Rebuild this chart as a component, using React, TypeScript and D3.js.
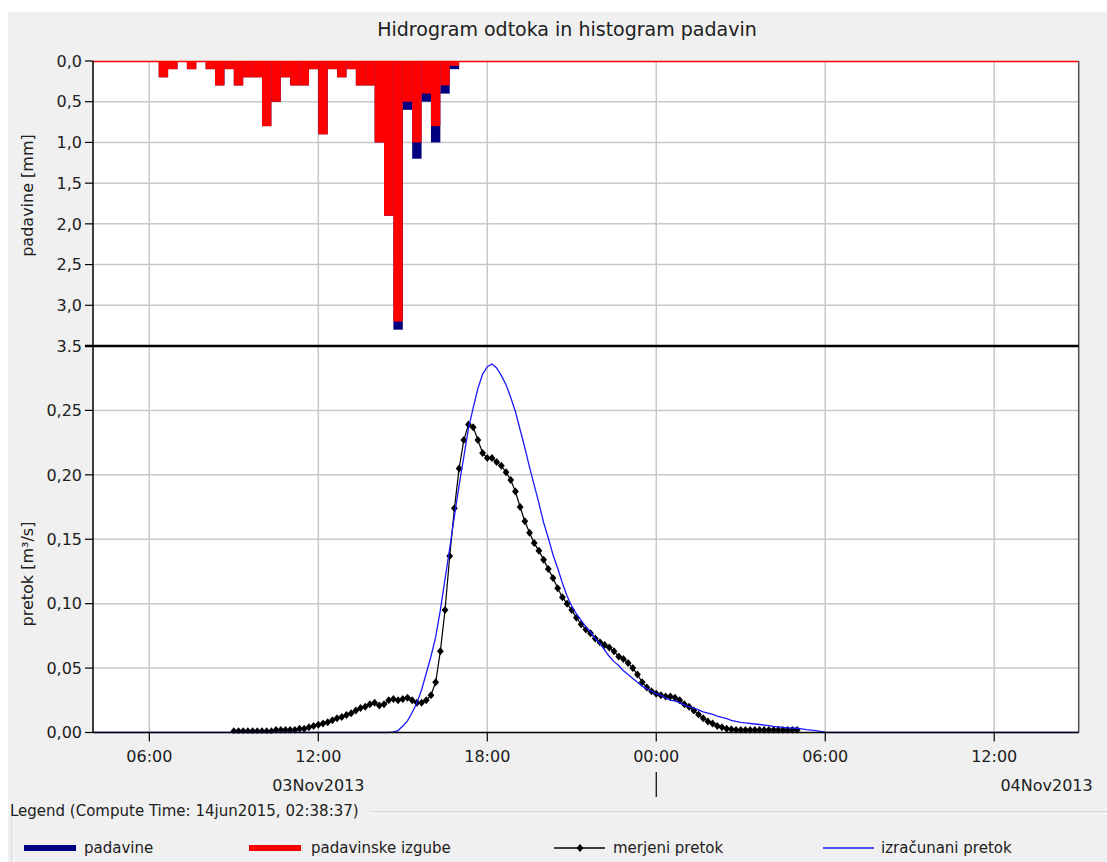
import React from 'react';
import * as d3 from 'd3';

// ---------- DATA ----------
const chartTitle = 'Hidrogram odtoka in histogram padavin';
const precipStart = Date.UTC(2013, 10, 3, 6, 0);
const precipStepMin = 20;
// total precipitation per 20-min interval [mm]
const padavine = [0, 0.2, 0.1, 0, 0.1, 0, 0.1, 0.3, 0.1, 0.3, 0.2, 0.2, 0.8, 0.5, 0.2, 0.3, 0.3, 0.1, 0.9, 0.1, 0.2, 0.1, 0.3, 0.3, 1.0, 1.9, 3.3, 0.6, 1.2, 0.5, 1.0, 0.4, 0.1];
// precipitation losses per 20-min interval [mm]
const izgube = [0, 0.2, 0.1, 0, 0.1, 0, 0.1, 0.3, 0.1, 0.3, 0.2, 0.2, 0.8, 0.5, 0.2, 0.3, 0.3, 0.1, 0.9, 0.1, 0.2, 0.1, 0.3, 0.3, 1.0, 1.9, 3.2, 0.5, 1.0, 0.4, 0.8, 0.3, 0.06];

const measuredStart = Date.UTC(2013, 10, 3, 9, 0);
const measuredStepMin = 10;
const merjeniPretok = [
  0.001, 0.001, 0.001, 0.001, 0.001, 0.001, 0.001, 0.001, 0.001,
  0.002, 0.002, 0.002, 0.002, 0.002,
  0.003, 0.003, 0.004, 0.005, 0.006, 0.007, 0.008, 0.0095, 0.011, 0.012,
  0.0135, 0.015, 0.017, 0.019, 0.020, 0.022, 0.023, 0.021, 0.022, 0.025,
  0.026, 0.025, 0.026, 0.027, 0.025, 0.023, 0.023, 0.025, 0.029, 0.039,
  0.063, 0.095, 0.137, 0.174, 0.205, 0.227, 0.239, 0.237, 0.227, 0.217,
  0.213, 0.213, 0.210, 0.207, 0.202, 0.196, 0.187, 0.175, 0.164, 0.155,
  0.147, 0.141, 0.134, 0.127, 0.120, 0.112, 0.105, 0.100, 0.095, 0.089,
  0.084, 0.080, 0.077, 0.073, 0.070, 0.068, 0.066, 0.063, 0.059, 0.057,
  0.054, 0.050, 0.045, 0.039, 0.035, 0.032, 0.030, 0.029, 0.028, 0.028,
  0.027, 0.025, 0.022, 0.020, 0.017, 0.014, 0.011, 0.0085, 0.007, 0.005,
  0.004, 0.003, 0.0025,
  0.002, 0.002, 0.002, 0.002, 0.002, 0.002, 0.002, 0.002, 0.002, 0.002, 0.002, 0.002, 0.002, 0.002,
];

const computedStart = Date.UTC(2013, 10, 3, 14, 0);
const computedStepMin = 10;
const izracunaniPretok = [
  0, 0, 0, 0, 0.0005, 0.0015, 0.005, 0.009, 0.0155, 0.023,
  0.033, 0.046, 0.059, 0.074, 0.095, 0.119, 0.143, 0.168, 0.192, 0.214,
  0.236, 0.252, 0.267, 0.278, 0.284, 0.286, 0.283, 0.277, 0.270, 0.260,
  0.249, 0.235, 0.221, 0.206, 0.192, 0.178, 0.163, 0.151, 0.138, 0.1275,
  0.116, 0.106, 0.098, 0.092, 0.087, 0.082, 0.078, 0.073, 0.069, 0.064,
  0.059, 0.055, 0.052, 0.048, 0.045, 0.042, 0.039, 0.036, 0.034, 0.032,
  0.030, 0.029, 0.027, 0.025, 0.0245, 0.023, 0.0215, 0.020, 0.019, 0.0175,
  0.016, 0.015, 0.014, 0.0128, 0.0117, 0.0107, 0.0095, 0.0086, 0.0079, 0.0074,
  0.007, 0.0066, 0.0062, 0.0058, 0.0053, 0.0048, 0.0044, 0.004, 0.0037, 0.0035,
  0.0033, 0.0028, 0.0023, 0.0019, 0.0015, 0.0008, 0.0003, 0,
];

const timeDomain = [Date.UTC(2013, 10, 3, 4, 0), Date.UTC(2013, 10, 4, 15, 0)];
const precipTicks = [0, 0.5, 1.0, 1.5, 2.0, 2.5, 3.0, 3.5];
const precipTickLabels = ['0,0', '0,5', '1,0', '1,5', '2,0', '2,5', '3,0', '3.5'];
const flowTicks = [0, 0.05, 0.1, 0.15, 0.2, 0.25];
const flowTickLabels = ['0,00', '0,05', '0,10', '0,15', '0,20', '0,25'];
const dayLabels = ['03Nov2013', '04Nov2013'];
const dayNoons = [Date.UTC(2013, 10, 3, 12), Date.UTC(2013, 10, 4, 12)];
const dayBoundary = Date.UTC(2013, 10, 4, 0);
const legendTitle = 'Legend (Compute Time: 14jun2015, 02:38:37)';
const legendLabels = ['padavine', 'padavinske izgube', 'merjeni pretok', 'izračunani pretok'];

// ---------- STYLE ----------
const FONT = 'DejaVu Sans, Verdana, sans-serif';
const NAVY = '#000080';
const RED = '#ff0000';
const BLUE = '#1a1aff';
const GRID = '#c8c8c8';
const TXT = '#202020';

const L = 93, R = 1078.7, TOP = 61, MID = 346, BOT = 732.5;

export default function App() {
  const x = d3.scaleUtc().domain(timeDomain).range([L, R]);
  const yP = d3.scaleLinear().domain([0, 3.5]).range([TOP, MID]);
  const yQ = d3.scaleLinear().domain([0, 0.3]).range([BOT, MID]);
  const ticks = x.ticks(d3.utcHour.every(6));
  const fmt = d3.utcFormat('%H:%M');

  const binMs = precipStepMin * 60000;
  const bars = padavine.map((v, i) => ({
    t0: precipStart + i * binMs,
    t1: precipStart + (i + 1) * binMs,
    total: v,
    loss: izgube[i],
  }));

  const meas: [number, number][] = merjeniPretok.map((v, i) => [measuredStart + i * measuredStepMin * 60000, v]);
  const comp: [number, number][] = [
    [timeDomain[0], 0],
    ...izracunaniPretok.map((v, i) => [computedStart + i * computedStepMin * 60000, v] as [number, number]),
    [timeDomain[1], 0],
  ];
  const line = d3.line<[number, number]>().x(d => x(d[0])).y(d => yQ(d[1]));

  const diamond = 'M0,-4L3.4,0L0,4L-3.4,0Z';
  // the second date label is pushed left so it stays inside the chart
  const day2Right = Math.min(x(dayNoons[1]) + 100, R + 14);

  return (
    <svg width={1107} height={862} style={{ position: 'absolute', left: 0, top: 0 }} fontFamily={FONT}>
      <defs>
        <clipPath id="clipTop"><rect x={L} y={TOP - 1} width={R - L} height={MID - TOP + 1} /></clipPath>
        <clipPath id="clipBot"><rect x={L} y={MID} width={R - L} height={BOT - MID + 1} /></clipPath>
      </defs>
      <rect x={0} y={0} width={1107} height={862} fill="#ffffff" />
      <rect x={8} y={12} width={1099} height={850} fill="#f0f0f0" />

      <text x={567} y={36} textAnchor="middle" fontSize={19} fill={TXT}>{chartTitle}</text>

      {/* plot backgrounds */}
      <rect x={L} y={TOP} width={R - L} height={BOT - TOP} fill="#ffffff" />

      {/* grid */}
      {precipTicks.slice(1, -1).map((v, i) => (
        <line key={'gp' + i} x1={L} x2={R} y1={yP(v)} y2={yP(v)} stroke={GRID} strokeWidth={1.5} />
      ))}
      {flowTicks.slice(1).map((v, i) => (
        <line key={'gq' + i} x1={L} x2={R} y1={yQ(v)} y2={yQ(v)} stroke={GRID} strokeWidth={1.5} />
      ))}
      {ticks.map((t, i) => (
        <g key={'gv' + i}>
          <line x1={x(t)} x2={x(t)} y1={TOP} y2={MID} stroke={GRID} strokeWidth={1.5} />
          <line x1={x(t)} x2={x(t)} y1={MID} y2={BOT} stroke={GRID} strokeWidth={1.5} />
        </g>
      ))}

      {/* precipitation bars */}
      <g clipPath="url(#clipTop)">
        {bars.map((b, i) => b.total > 0 && (
          <rect key={'pb' + i} x={x(b.t0)} y={yP(0)} width={x(b.t1) - x(b.t0)} height={yP(b.total) - yP(0)} fill={NAVY} />
        ))}
        {bars.map((b, i) => b.loss > 0 && (
          <rect key={'pl' + i} x={x(b.t0)} y={yP(0)} width={x(b.t1) - x(b.t0)} height={yP(b.loss) - yP(0)} fill={RED} />
        ))}
        <line x1={L} x2={R} y1={yP(0) + 0.5} y2={yP(0) + 0.5} stroke={RED} strokeWidth={1.5} />
      </g>

      {/* flow lines */}
      <g clipPath="url(#clipBot)">
        <path d={line(meas) || ''} fill="none" stroke="#000" strokeWidth={1.2} />
        {meas.map((d, i) => (
          <path key={'m' + i} d={diamond} transform={`translate(${x(d[0])},${yQ(d[1])})`} fill="#000" />
        ))}
        <path d={line(comp) || ''} fill="none" stroke={BLUE} strokeWidth={1.3} />
      </g>

      {/* axes frame */}
      <line x1={L} x2={L} y1={TOP} y2={BOT} stroke="#000" strokeWidth={1.5} />
      <line x1={R} x2={R} y1={TOP} y2={BOT} stroke="#505050" strokeWidth={1.5} />
      <line x1={L - 8} x2={R} y1={MID} y2={MID} stroke="#000" strokeWidth={2.5} />
      <line x1={L} x2={R} y1={BOT} y2={BOT} stroke="#000" strokeWidth={1.5} />

      {/* y ticks top */}
      {precipTicks.map((v, i) => (
        <g key={'tp' + i}>
          <line x1={L - 8} x2={L} y1={yP(v)} y2={yP(v)} stroke="#000" strokeWidth={1.2} />
          <text x={L - 11} y={yP(v)} dy="0.36em" textAnchor="end" fontSize={16} fill={TXT}>{precipTickLabels[i]}</text>
        </g>
      ))}
      {/* y ticks bottom */}
      {flowTicks.map((v, i) => (
        <g key={'tq' + i}>
          <line x1={L - 8} x2={L} y1={yQ(v)} y2={yQ(v)} stroke="#000" strokeWidth={1.2} />
          <text x={L - 11} y={yQ(v)} dy="0.36em" textAnchor="end" fontSize={16} fill={TXT}>{flowTickLabels[i]}</text>
        </g>
      ))}
      <text transform={`translate(27,${(TOP + MID) / 2 - 8}) rotate(-90)`} textAnchor="middle" dy="0.36em" fontSize={16} fill={TXT}>padavine [mm]</text>
      <text transform={`translate(27,574) rotate(-90)`} textAnchor="middle" dy="0.36em" fontSize={16} fill={TXT}>pretok [m³/s]</text>

      {/* x ticks */}
      {ticks.map((t, i) => (
        <g key={'tx' + i}>
          <line x1={x(t)} x2={x(t)} y1={BOT} y2={BOT + 9} stroke="#000" strokeWidth={1.2} />
          <text x={x(t)} y={762} textAnchor="middle" fontSize={16} fill={TXT}>{fmt(t)}</text>
        </g>
      ))}
      <text x={x(dayNoons[0])} y={791} textAnchor="middle" fontSize={16} fill={TXT}>{dayLabels[0]}</text>
      <text x={day2Right} y={791} textAnchor="end" fontSize={16} fill={TXT}>{dayLabels[1]}</text>
      <line x1={x(dayBoundary)} x2={x(dayBoundary)} y1={772} y2={797} stroke="#000" strokeWidth={1.2} />

      {/* legend */}
      <line x1={12} x2={12} y1={812} y2={862} stroke="#c4c4c4" strokeWidth={1} />
      <line x1={13} x2={13} y1={813} y2={862} stroke="#ffffff" strokeWidth={1} />
      <line x1={370} x2={1107} y1={812} y2={812} stroke="#c4c4c4" strokeWidth={1} />
      <line x1={370} x2={1107} y1={813} y2={813} stroke="#ffffff" strokeWidth={1} />
      <text x={10} y={816} fontSize={15} fill={TXT}>{legendTitle}</text>

      <rect x={24} y={845} width={52} height={6} fill={NAVY} />
      <text x={84} y={853} fontSize={15} fill={TXT}>{legendLabels[0]}</text>
      <rect x={249} y={845} width={52} height={6} fill={RED} />
      <text x={311} y={853} fontSize={15} fill={TXT}>{legendLabels[1]}</text>
      <line x1={554} x2={605} y1={848} y2={848} stroke="#000" strokeWidth={1.5} />
      <path d={diamond} transform="translate(580,848)" fill="#000" />
      <text x={613} y={853} fontSize={15} fill={TXT}>{legendLabels[2]}</text>
      <line x1={823} x2={874} y1={848} y2={848} stroke={BLUE} strokeWidth={1.5} />
      <text x={881} y={853} fontSize={15} fill={TXT}>{legendLabels[3]}</text>
    </svg>
  );
}
